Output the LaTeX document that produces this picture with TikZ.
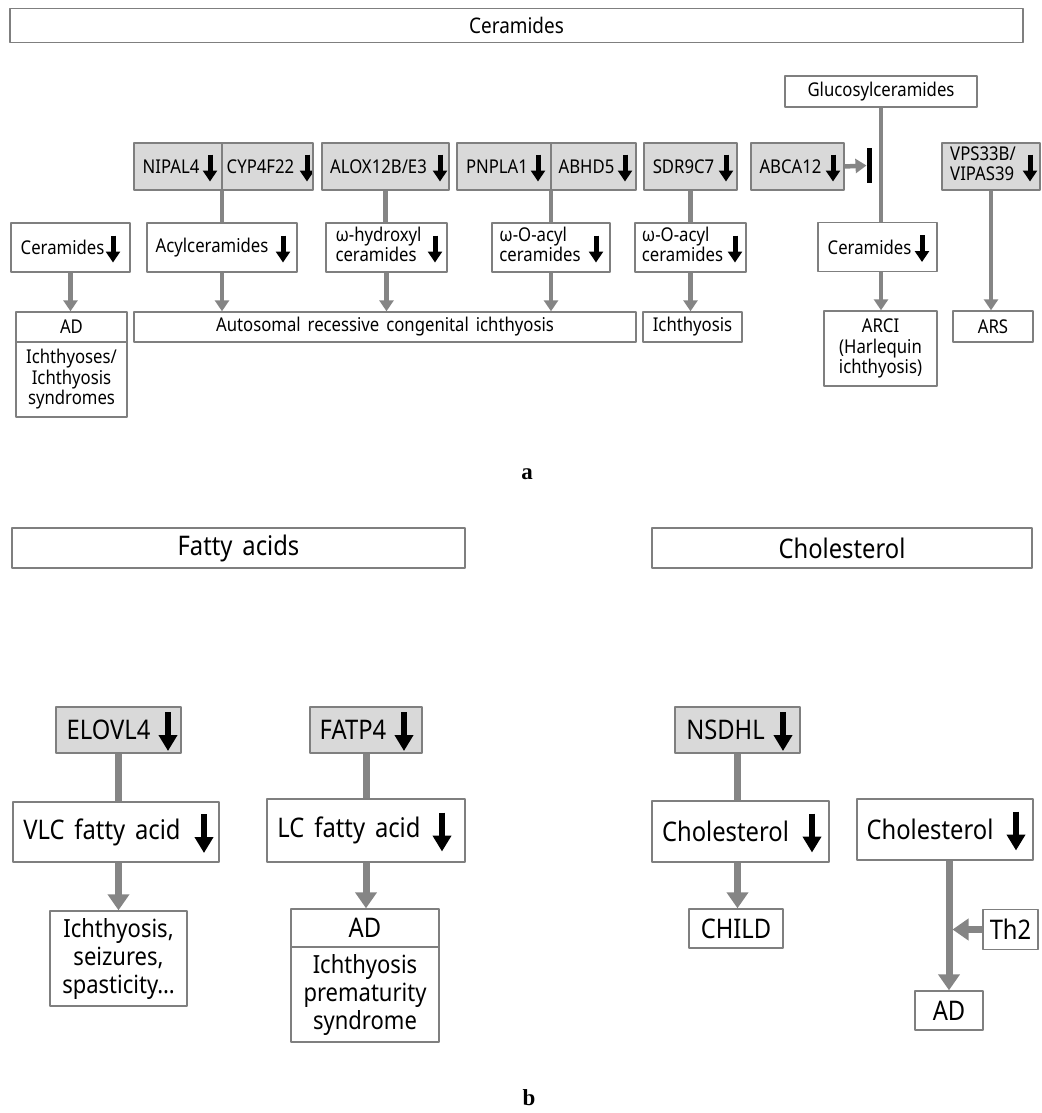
\documentclass[tikz,border=0pt]{standalone}
\usepackage{fontspec}
\setmainfont{Noto Sans}[FakeStretch=0.88, WordSpace=1.6]
\newfontfamily\labelfont{Liberation Serif}
\usetikzlibrary{arrows.meta}
\definecolor{bordergray}{HTML}{7F7F7F}
\definecolor{linkgray}{HTML}{858585}
\definecolor{genefill}{HTML}{D9D9D9}
\newcommand{\twoline}[2]{\begin{tabular}{@{}l@{}}#1\\#2\end{tabular}}
\begin{document}
\begin{tikzpicture}[x=1pt, y=-1pt, line join=round,
	box/.style={draw=bordergray, line width=1.4pt, fill=white, inner sep=1pt},
	gene/.style={box, fill=genefill},
	sz/.style 2 args={minimum width=#1, minimum height=#2},
	small/.style={font=\fontsize{19}{20.5}\selectfont},
	mid/.style={font=\fontsize{25}{28}\selectfont},
	large/.style={font=\fontsize{27}{29}\selectfont},
	fall/.style={path picture={\draw[black, line width=5pt, -{Triangle[width=14pt,length=11pt]}] ([xshift=-#1pt, yshift=12pt]path picture bounding box.east) -- ++(0pt,-27pt);}},
	bigfall/.style={path picture={\draw[black, line width=6pt, -{Triangle[width=18pt,length=16pt]}] ([xshift=-#1pt, yshift=18pt]path picture bounding box.east) -- ++(0pt,-39pt);}},
	link/.style={draw=linkgray, line width=4.5pt},
	flow/.style={link, -{Triangle[width=14pt,length=11pt]}},
	blink/.style={draw=linkgray, line width=7pt},
	bflow/.style={blink, -{Triangle[width=21pt,length=16pt]}}]
	\useasboundingbox (0,0) rectangle (1041,1113);
	\node[box, font=\fontsize{21.5}{23}\selectfont, sz={1013pt}{34pt}] (cer) at (516.5,25.5) {Ceramides};
	\node[gene, small, sz={88pt}{47pt}, fall=12] (nipal) at (178,166.5) {NIPAL4\kern14pt};
	\node[gene, small, sz={91pt}{47pt}, fall=6] (cyp) at (267.5,166.5) {CYP4F22\kern14pt};
	\node[gene, small, sz={127pt}{47pt}, fall=9] (alox) at (385.5,166.5) {ALOX12B/E3\kern14pt};
	\node[gene, small, sz={94pt}{47pt}, fall=13] (pnpla) at (504,166.5) {PNPLA1\kern14pt};
	\node[gene, small, sz={85pt}{47pt}, fall=11] (abhd) at (593.5,166.5) {ABHD5\kern14pt};
	\node[gene, small, sz={93pt}{47pt}, fall=11] (sdr) at (690.5,166.5) {SDR9C7\kern14pt};
	\node[gene, small, sz={93pt}{47pt}, fall=11] (abca) at (797.5,166.5) {ABCA12\kern14pt};
	\node[gene, small, sz={98pt}{47pt}, fall=10] (vps) at (991,166.5) {\twoline{VPS33B/}{VIPAS39}\kern16pt};
	\node[box, small, sz={192pt}{31pt}] (gluc) at (881,91.5) {Glucosylceramides};
	\node[box, small, sz={119pt}{49pt}, fall=17] (cer1) at (70.5,247.5) {Ceramides\kern16pt};
	\node[box, small, sz={150pt}{49pt}, fall=14] (acyl) at (222,247.5) {Acylceramides\kern20pt};
	\node[box, small, sz={121pt}{49pt}, fall=12] (hyd) at (386.5,247.5) {\twoline{ω-hydroxyl}{ceramides}\kern16pt};
	\node[box, small, sz={118pt}{49pt}, fall=14] (oac1) at (551,247.5) {\twoline{ω-O-acyl}{ceramides}\kern22pt};
	\node[box, small, sz={111pt}{49pt}, fall=11] (oac2) at (690.5,247.5) {\twoline{ω-O-acyl}{ceramides}\kern16pt};
	\node[box, small, sz={119pt}{49pt}, fall=15] (cer2) at (877.5,247) {Ceramides\kern16pt};
	\node[box, small, sz={111pt}{30pt}] (ad1) at (71.5,327) {AD};
	\node[box, small, align=center, sz={111pt}{75pt}] (syn1) at (71.5,379.5) {Ichthyoses/\\Ichthyosis\\syndromes};
	\node[box, small, sz={502pt}{30pt}] (arcibox) at (385,327) {Autosomal recessive congenital ichthyosis};
	\node[box, small, sz={99pt}{30pt}] (ich) at (692.5,327) {Ichthyosis};
	\node[box, small, align=center, sz={113pt}{75pt}] (arci) at (880.5,348.5) {ARCI\\(Harlequin\\ichthyosis)};
	\node[box, small, sz={80pt}{31pt}] (ars) at (993,326.5) {ARS};
	\coordinate (stop) at (869,165.5);
	\draw[link] (acyl.north |- nipal.south) -- (acyl.north);
	\draw[link] (alox.south) -- (alox.south |- hyd.north);
	\draw[link] (oac1.north |- pnpla.south) -- (oac1.north);
	\draw[link] (sdr.south) -- (sdr.south |- oac2.north);
	\draw[link] (gluc.south) -- (gluc.south |- cer2.north);
	\draw[flow] (cer1.south) -- (cer1.south |- ad1.north);
	\draw[flow] (acyl.south) -- (acyl.south |- arcibox.north);
	\draw[flow] (hyd.south) -- (hyd.south |- arcibox.north);
	\draw[flow] (oac1.south) -- (oac1.south |- arcibox.north);
	\draw[flow] (oac2.south) -- (oac2.south |- ich.north);
	\draw[flow] (gluc.south |- cer2.south) -- (gluc.south |- arci.north);
	\draw[flow] (vps.south) -- (vps.south |- ars.north);
	\draw[flow] (abca.east) -- ([xshift=-2.5pt]stop);
	\draw[black, line width=5pt] ([yshift=17.5pt]stop) -- ([yshift=-17.5pt]stop);
	\node[font=\labelfont\bfseries\fontsize{23}{25}\selectfont] (la) at (527,474) {a};
	\node[box, font=\fontsize{27}{29}\selectfont, sz={453pt}{40pt}] (fatty) at (238.5,548) {Fatty acids};
	\node[box, font=\fontsize{27}{29}\selectfont, sz={380pt}{40pt}] (chol) at (842,548) {Cholesterol};
	\node[gene, large, sz={125pt}{46pt}, bigfall=13] (elovl) at (118.5,730) {ELOVL4\kern20pt};
	\node[gene, large, sz={112pt}{46pt}, bigfall=18] (fatp) at (366,730) {FATP4\kern26pt};
	\node[gene, large, sz={125pt}{46pt}, bigfall=17] (nsdhl) at (737.5,730) {NSDHL\kern24pt};
	\node[box, large, sz={206pt}{60pt}, bigfall=15] (vlc) at (116,832) {VLC fatty acid\kern28pt};
	\node[box, large, sz={198pt}{63pt}, bigfall=23] (lc) at (366,830.5) {LC fatty acid\kern34pt};
	\node[box, large, sz={177pt}{61pt}, bigfall=17] (chol1) at (740.5,831.5) {Cholesterol\kern30pt};
	\node[box, large, sz={176pt}{61pt}, bigfall=17] (chol2) at (945,829.5) {Cholesterol\kern30pt};
	\node[box, mid, align=center, sz={137pt}{95pt}] (ichs) at (118.5,958.5) {Ichthyosis,\\seizures,\\spasticity…};
	\node[box, large, sz={148pt}{38pt}] (ad3) at (365,928) {AD};
	\node[box, mid, align=center, sz={148pt}{95pt}] (ips) at (365,994.5) {Ichthyosis\\prematurity\\syndrome};
	\node[box, large, sz={94pt}{39pt}] (child) at (736,928.5) {CHILD};
	\node[box, large, sz={55pt}{40pt}] (th2) at (1010.5,929.5) {Th2};
	\node[box, large, sz={68pt}{39pt}] (ad2) at (949,1010.5) {AD};
	\draw[blink] (elovl.south) -- (elovl.south |- vlc.north);
	\draw[bflow] (elovl.south |- vlc.south) -- (elovl.south |- ichs.north);
	\draw[blink] (fatp.south) -- (fatp.south |- lc.north);
	\draw[bflow] (lc.south) -- (lc.south |- ad3.north);
	\draw[blink] (nsdhl.south) -- (nsdhl.south |- chol1.north);
	\draw[bflow] (nsdhl.south |- chol1.south) -- (nsdhl.south |- child.north);
	\draw[bflow] (ad2.north |- chol2.south) -- (ad2.north);
	\draw[bflow] (th2.west) -- ([xshift=3.5pt]th2.west -| ad2.north);
	\node[font=\labelfont\bfseries\fontsize{23}{25}\selectfont] (lb) at (529,1098) {b};
\end{tikzpicture}
\end{document}
